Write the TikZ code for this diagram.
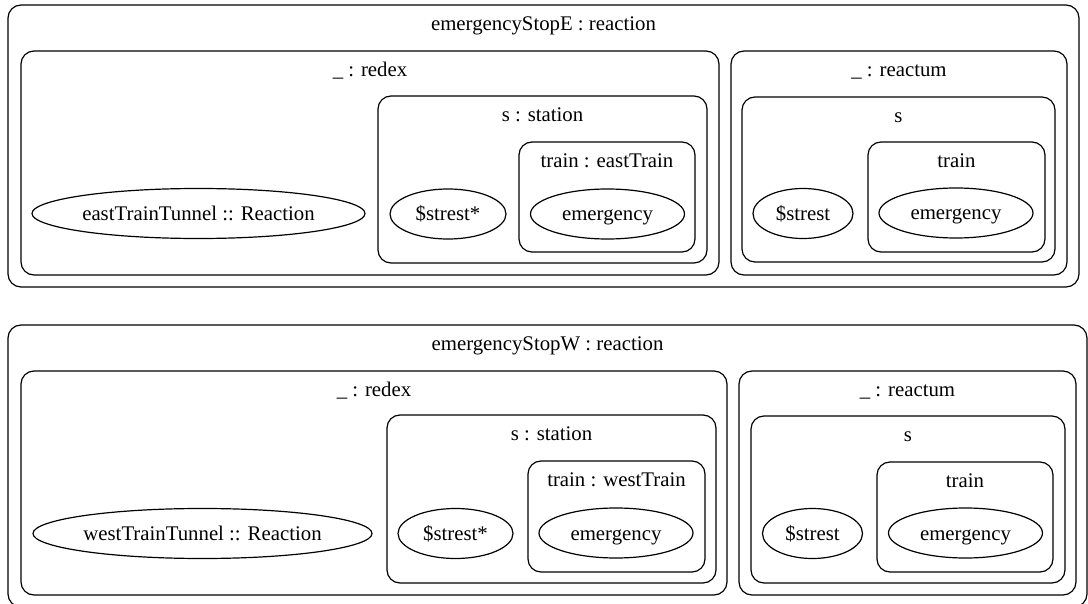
\documentclass[tikz,border=0pt]{standalone}
\usepackage{fontspec}
\setmainfont{Liberation Serif}
\usetikzlibrary{shapes.geometric,fit}
\begin{document}
\begin{tikzpicture}[x=1pt,y=-1pt,
  font=\fontsize{20.8}{25}\selectfont,
  box/.style={draw, rounded corners=13pt, inner sep=0pt, line width=1.2pt},
  ell/.style={draw, ellipse, inner sep=0pt, line width=1.2pt, minimum height=50pt,
    text height=14pt, text depth=0pt},
  lbl/.style={anchor=base, inner sep=0pt}]
\useasboundingbox (0,0) rectangle (1088,604);

% ---------- emergencyStopE ----------
\node[box, fit={(8,5) (1079,287)}] (E) {};
\node[lbl] (El) at ([yshift=-26pt]E.north) {emergencyStopE : reaction};

\node[box, fit={(21,51) (719,275)}] (Ered) {};
\node[lbl] (Eredl) at ([yshift=-26pt]Ered.north) {\_ : redex};
\node[ell, minimum width=333pt] (Etun) at (198.5,213.5) {eastTrainTunnel :: Reaction};

\node[box, fit={(378,96) (707,263)}] (Est) {};
\node[lbl] (Estl) at ([yshift=-26pt]Est.north) {s : station};
\node[ell, minimum width=116pt] (Estr) at (448,214) {\$strest*};

\node[box, fit={(519,142) (695,252)}] (Etr) {};
\node[lbl] (Etrl) at ([yshift=-26pt]Etr.north) {train : eastTrain};
\node[ell, minimum width=154pt] (Eem) at (607.5,214) {emergency};

\node[box, fit={(731,51) (1067,275)}] (Erea) {};
\node[lbl] (Ereal) at ([yshift=-26pt]Erea.north) {\_ : reactum};

\node[box, fit={(742,97) (1055,262)}] (Es) {};
\node[lbl] (Esl) at ([yshift=-26pt]Es.north) {s};
\node[ell, minimum width=100pt] (Estr2) at (803,213.5) {\$strest};

\node[box, fit={(868,142) (1045,252)}] (Etr2) {};
\node[lbl] (Etr2l) at ([yshift=-26pt]Etr2.north) {train};
\node[ell, minimum width=154pt] (Eem2) at (956,213) {emergency};

% ---------- emergencyStopW ----------
\node[box, fit={(8,325) (1087,607)}] (W) {};
\node[lbl] (Wl) at ([yshift=-26pt]W.north) {emergencyStopW : reaction};

\node[box, fit={(21,371) (727,595)}] (Wred) {};
\node[lbl] (Wredl) at ([yshift=-26pt]Wred.north) {\_ : redex};
\node[ell, minimum width=339pt] (Wtun) at (202.5,533.5) {westTrainTunnel :: Reaction};

\node[box, fit={(387,415) (716,583)}] (Wst) {};
\node[lbl] (Wstl) at ([yshift=-26pt]Wst.north) {s : station};
\node[ell, minimum width=115pt] (Wstr) at (455.5,533.5) {\$strest*};

\node[box, fit={(528,461) (705,572)}] (Wtr) {};
\node[lbl] (Wtrl) at ([yshift=-26pt]Wtr.north) {train : westTrain};
\node[ell, minimum width=154pt] (Wem) at (616,533) {emergency};

\node[box, fit={(739,371) (1076,595)}] (Wrea) {};
\node[lbl] (Wreal) at ([yshift=-26pt]Wrea.north) {\_ : reactum};

\node[box, fit={(751,416) (1065,583)}] (Ws) {};
\node[lbl] (Wsl) at ([yshift=-26pt]Ws.north) {s};
\node[ell, minimum width=100pt] (Wstr2) at (812.5,533.5) {\$strest};

\node[box, fit={(877,462) (1053,572)}] (Wtr2) {};
\node[lbl] (Wtr2l) at ([yshift=-26pt]Wtr2.north) {train};
\node[ell, minimum width=154pt] (Wem2) at (965.5,533) {emergency};
\end{tikzpicture}
\end{document}
